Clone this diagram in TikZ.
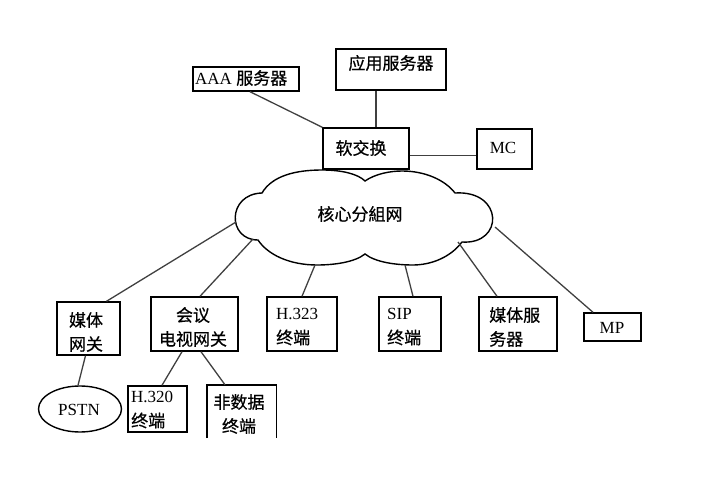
\documentclass[tikz,border=0pt]{standalone}
\usepackage{fontspec}
\usetikzlibrary{shapes.geometric}
\setmainfont{Liberation Serif}
\newfontfamily\cjk[FakeBold=0.6]{Noto Sans CJK SC}
\newcommand\zh[1]{{\cjk #1}}
\begin{document}
\begin{tikzpicture}[x=1pt,y=-1pt,
  box/.style={draw=black,line width=1.4pt,inner sep=0pt},
  txt/.style={inner sep=0pt,font=\fontsize{17}{24}\selectfont},
  conn/.style={draw=black!75,line width=1.3pt}]
\useasboundingbox (0,0) rectangle (707,494);
% top row
\node[box,minimum width=106,minimum height=24] (aaa) at (246,79) {};
\node[txt,anchor=west] (aaat) at (195,78) {AAA \zh{服务器}};
\node[box,minimum width=110,minimum height=41] (app) at (391,69.5) {};
\node[txt] (appt) at (391,63) {\zh{应用服务器}};
\node[box,minimum width=86,minimum height=41] (soft) at (366,148.5) {};
\node[txt] (softt) at (361,148) {\zh{软交换}};
\node[box,minimum width=55,minimum height=40] (mc) at (504.5,149) {};
\node[txt] (mct) at (503,148) {MC};
% cloud
\draw[line width=1.4pt,fill=white] (258,240)
  .. controls (227,240) and (227,194) .. (262,193)
  .. controls (272,176) and (295,170) .. (322,170)
  .. controls (342,170) and (358,174) .. (365,181)
  .. controls (375,174) and (390,171) .. (402,171)
  .. controls (425,171) and (445,180) .. (455,193)
  .. controls (504,190) and (504,245) .. (462,242)
  .. controls (450,258) and (430,265) .. (413,265)
  .. controls (395,265) and (375,262) .. (365,254)
  .. controls (355,262) and (335,265) .. (317,265)
  .. controls (290,265) and (268,255) .. (258,240) -- cycle;
\node[txt] (cloud) at (360,214) {\zh{核心分組网}};
\coordinate (c1) at (236,222);
\coordinate (c2) at (253,239);
\coordinate (c3) at (315,265);
\coordinate (c4) at (405,265);
\coordinate (c5) at (458,242);
\coordinate (c6) at (495,227);
% second row
\node[box,minimum width=63,minimum height=53] (mgw) at (88.5,328.5) {};
\node[txt,align=center] (mgwt) at (86,332) {\zh{媒体}\\\zh{网关}};
\node[box,minimum width=87,minimum height=54] (conf) at (194.5,324) {};
\node[txt,align=center] (conft) at (193,327) {\zh{会议}\\\zh{电视网关}};
\node[box,minimum width=70,minimum height=54] (h323) at (302,324) {};
\node[txt,align=left,anchor=west] (h323t) at (276,327) {H.323\\\zh{终端}};
\node[box,minimum width=62,minimum height=54] (sip) at (410,324) {};
\node[txt,align=left,anchor=west] (sipt) at (387,327) {SIP\\\zh{终端}};
\node[box,minimum width=78,minimum height=54] (ms) at (518,324) {};
\node[txt,align=left,anchor=west] (mst) at (489,327) {\zh{媒体服}\\\zh{务器}};
\node[box,minimum width=57,minimum height=28] (mp) at (612.5,327) {};
\node[txt] (mpt) at (612,328) {MP};
% third row
\node[draw=black,line width=1.4pt,ellipse,minimum width=83,minimum height=46,inner sep=0pt] (pstn) at (80,409) {};
\node[txt] (pstnt) at (79,410) {PSTN};
\node[box,minimum width=59,minimum height=46] (h320) at (157.5,409) {};
\node[txt,align=left,anchor=west] (h320t) at (131,410) {H.320\\\zh{终端}};
\node[inner sep=0pt,minimum width=69,minimum height=53] (nd) at (241.5,411.5) {};
\draw[line width=1.4pt] (nd.south west) -- (nd.north west) -- (nd.north east) -- (nd.south east);
\node[txt,align=center] (ndt) at (239,414) {\zh{非数据}\\\zh{终端}};
% connectors
\draw[conn] ([xshift=4pt]aaa.south) -- (soft.north west);
\draw[conn] ([xshift=10pt]soft.north) -- ([xshift=10pt]soft.north |- app.south);
\draw[conn] ([yshift=-7pt]soft.east) -- ([yshift=-7pt]soft.east -| mc.west);
\draw[conn] ([xshift=18pt]mgw.north) -- (c1);
\draw[conn] ([xshift=5.5pt]conf.north) -- (c2);
\draw[conn] (h323.north) -- (c3);
\draw[conn] ([xshift=3pt]sip.north) -- (c4);
\draw[conn] ([xshift=-21pt]ms.north) -- (c5);
\draw[conn] ([xshift=-19.5pt]mp.north) -- (c6);
\draw[conn] ([xshift=-3pt]mgw.south) -- ([xshift=-2pt]pstn.north);
\draw[conn] ([xshift=-12.5pt]conf.south) -- ([xshift=4.5pt]h320.north);
\draw[conn] ([xshift=6.5pt]conf.south) -- ([xshift=-16.5pt]nd.north);
\end{tikzpicture}
\end{document}
